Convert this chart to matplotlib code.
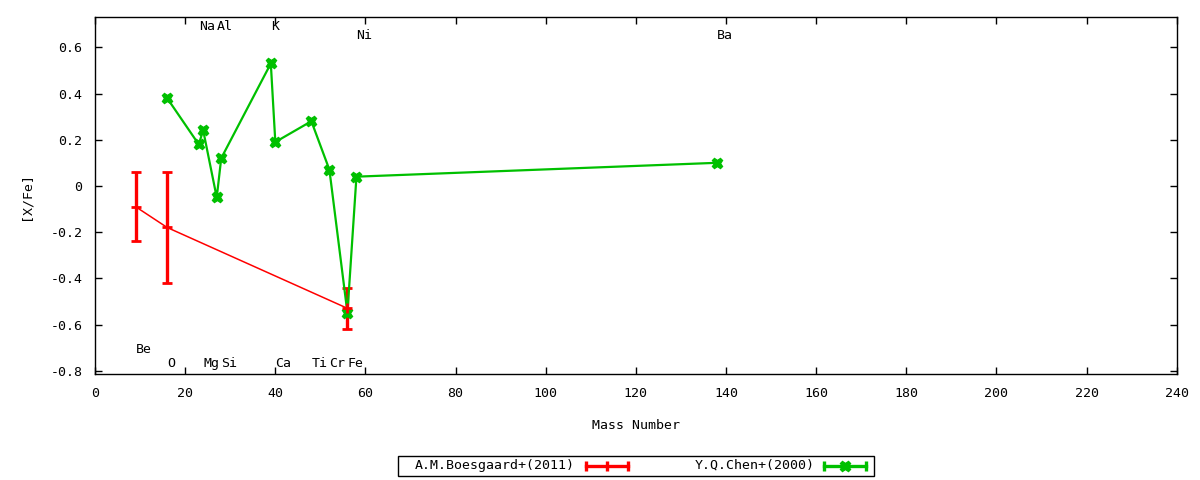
import matplotlib
matplotlib.use("Agg")
from matplotlib import pyplot as plt
from matplotlib.lines import Line2D
from matplotlib.patches import Rectangle

plt.rcParams['font.family'] = ['DejaVu Sans Mono']
plt.rcParams['font.size'] = 9.5

RED = '#ff0000'
GREEN = '#00c000'

# A.M.Boesgaard+(2011)
boes_mass = [9, 16, 56]
boes_xfe = [-0.09, -0.18, -0.53]
boes_err = [0.15, 0.24, 0.09]

# Y.Q.Chen+(2000)
chen_mass = [16, 23, 24, 27, 28, 39, 40, 48, 52, 56, 58, 138]
chen_xfe = [0.38, 0.18, 0.24, -0.05, 0.12, 0.53, 0.19, 0.28, 0.07, -0.55, 0.04, 0.10]

# element labels
elem_names = ['Be', 'O', 'Na', 'Mg', 'Al', 'Si', 'K', 'Ca', 'Ti', 'Cr', 'Fe', 'Ni', 'Ba']
elem_mass = [9, 16, 23, 24, 27, 28, 39, 40, 48, 52, 56, 58, 138]
elem_y = [-0.71, -0.77, 0.69, -0.77, 0.69, -0.77, 0.69, -0.77, -0.77, -0.77, -0.77, 0.65, 0.65]

x_ticks = list(range(0, 241, 20))
y_ticks = [-0.8, -0.6, -0.4, -0.2, 0, 0.2, 0.4, 0.6]

fig = plt.figure(figsize=(12, 4.8), dpi=100)
ax = fig.add_axes([0.0792, 0.2202, 0.9806 - 0.0792, 0.9652 - 0.2202])

ax.errorbar(boes_mass, boes_xfe, yerr=boes_err, color=RED, lw=1.1,
            elinewidth=2.4, capsize=3.3, capthick=2.2,
            marker='+', markersize=7, mew=2)
ax.plot(chen_mass, chen_xfe, color=GREEN, lw=1.6,
        marker='X', markersize=7.5, mec=GREEN, mfc=GREEN)

for name, m, y in zip(elem_names, elem_mass, elem_y):
    ax.text(m, y, name, ha='left', va='center')

ax.set_xlim(0, 240)
ax.set_ylim(-0.8156, 0.7325)
ax.set_xticks(x_ticks)
ax.set_xticklabels([str(t) for t in x_ticks])
ax.set_yticks(y_ticks)
ax.set_yticklabels(['-0.8', '-0.6', '-0.4', '-0.2', '0', '0.2', '0.4', '0.6'])
ax.tick_params(direction='in', length=5, width=1, top=True, right=True, pad=9)
for s in ax.spines.values():
    s.set_linewidth(1)

ax.set_xlabel('Mass Number', labelpad=14)
ax.set_ylabel('[X/Fe]', labelpad=13)

# gnuplot style legend below the plot
W, H = 1200.0, 480.0
def fx(px):
    return px / W
def fy(py):
    return 1 - py / H

fig.add_artist(Rectangle((fx(398), fy(475.5)), fx(874) - fx(398), fy(455.5) - fy(475.5),
                         transform=fig.transFigure, fill=False, lw=1, ec='black'))
ly = fy(465.5)
fig.text(fx(575), ly, 'A.M.Boesgaard+(2011)', ha='right', va='center')
fig.add_artist(Line2D([fx(586), fx(628)], [ly, ly], transform=fig.transFigure,
                      color=RED, lw=2.4))
fig.add_artist(Line2D([fx(586), fx(607), fx(628)], [ly, ly, ly], transform=fig.transFigure,
                      color=RED, lw=0, marker='|', markersize=7, mew=2.4))
fig.text(fx(815), ly, 'Y.Q.Chen+(2000)', ha='right', va='center')
fig.add_artist(Line2D([fx(824), fx(866)], [ly, ly], transform=fig.transFigure,
                      color=GREEN, lw=2.4))
fig.add_artist(Line2D([fx(824), fx(866)], [ly, ly], transform=fig.transFigure,
                      color=GREEN, lw=0, marker='|', markersize=7, mew=2.4))
fig.add_artist(Line2D([fx(845)], [ly], transform=fig.transFigure,
                      color=GREEN, lw=0, marker='X', markersize=7.5))

fig.savefig('out.png', dpi=100)
